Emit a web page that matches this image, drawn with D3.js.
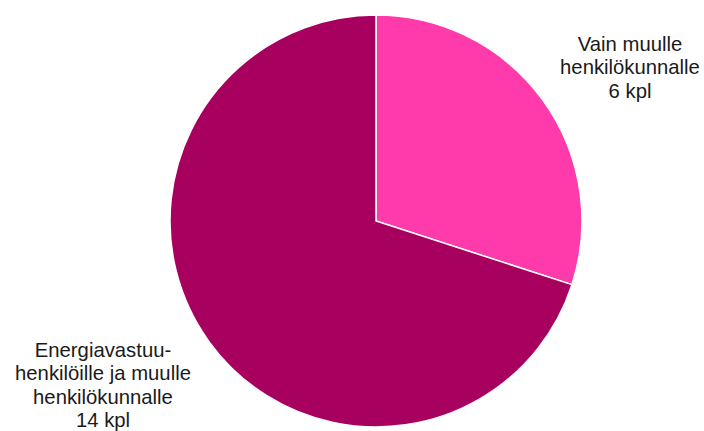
<!DOCTYPE html>
<html><head><meta charset="utf-8">
<script src="https://cdn.jsdelivr.net/npm/d3@7"></script>
<style>html,body{margin:0;padding:0;background:#fff;}svg{display:block;}</style>
</head><body>
<script>
const categories = ["Vain muulle henkilökunnalle", "Energiavastuuhenkilöille ja muulle henkilökunnalle"];
const values = [6, 14];
const colors = ["#FF3AAA", "#A8005F"];
const labelLines = [
  ["Vain muulle", "henkilökunnalle", "6 kpl"],
  ["Energiavastuu-", "henkilöille ja muulle", "henkilökunnalle", "14 kpl"]
];

const W = 704, H = 431;
const cx = 376, cy = 221, r = 206;
const svg = d3.select("body").append("svg").attr("width", W).attr("height", H);
const pie = d3.pie().sort(null).value(d => d)(values);
const arc = d3.arc().innerRadius(0).outerRadius(r);
const g = svg.append("g").attr("transform", `translate(${cx},${cy})`);
g.selectAll("path").data(pie).join("path")
  .attr("d", arc)
  .attr("fill", (d, i) => colors[i])
  .attr("stroke", "#fff").attr("stroke-width", 1.5);

const labelPos = [[630, 51], [103, 357]];
const lh = 23.3;
labelLines.forEach((lines, i) => {
  const t = svg.append("text")
    .attr("text-anchor", "middle")
    .attr("font-family", "Liberation Sans, Arial, sans-serif")
    .attr("font-size", 20.3)
    .attr("fill", "#1a1a1a");
  lines.forEach((s, j) => {
    t.append("tspan").attr("x", labelPos[i][0]).attr("y", labelPos[i][1] + j * lh).text(s);
  });
});
</script>
</body></html>
